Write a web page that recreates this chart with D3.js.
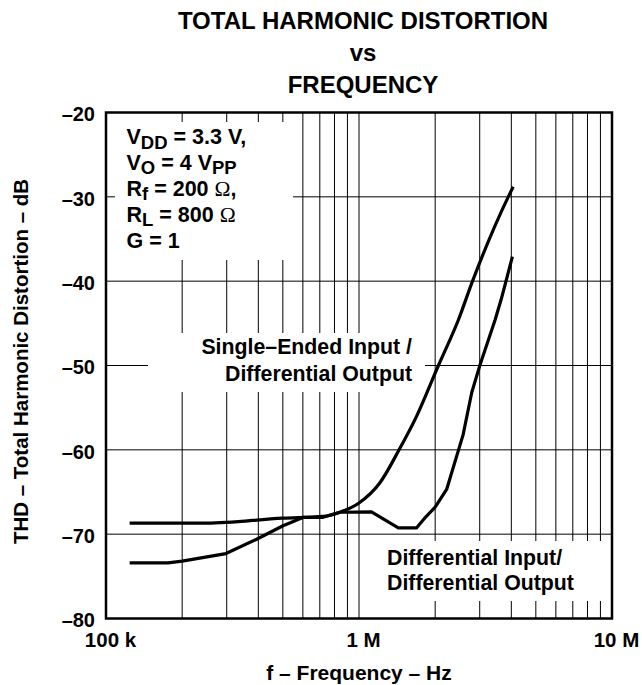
<!DOCTYPE html>
<html>
<head>
<meta charset="utf-8">
<script src="https://cdn.jsdelivr.net/npm/d3@7"></script>
<style>
  html, body { margin: 0; padding: 0; background: #fff; }
  svg { display: block; }
  text { font-family: "Liberation Sans", Arial, Helvetica, sans-serif; font-weight: bold; fill: #000; }
</style>
</head>
<body>
<svg id="chart" width="642" height="685"></svg>
<script>
// ---- Data ----
const titleLines = ["TOTAL HARMONIC DISTORTION", "vs", "FREQUENCY"];
const xTickValues = [1e5, 1e6, 1e7];
const xTickLabels = ["100 k", "1 M", "10 M"];
const yTickValues = [-20, -30, -40, -50, -60, -70, -80];
const xLabel = "f – Frequency – Hz";
const yLabel = "THD – Total Harmonic Distortion – dB";

// Single-ended input / differential output
const seFreq = [124e3, 250e3, 500e3, 720e3, 840e3, 1.0e6, 1.21e6, 1.44e6, 1.69e6, 2.06e6, 2.47e6, 2.81e6, 3.89e6, 4.07e6];
const seTHD  = [-68.7, -68.7, -68.1, -67.9, -67.4, -66.3, -63.9, -60.0, -56.0, -50.0, -44.6, -40.0, -30.0, -28.8];

// Differential input / differential output
const diffFreq = [124e3, 176e3, 200e3, 298e3, 394e3, 501e3, 603e3, 721e3, 841e3, 1.12e6, 1.43e6, 1.69e6, 1.83e6, 2.0e6, 2.22e6, 2.58e6, 2.79e6, 3.01e6, 3.45e6, 3.66e6, 4.04e6];
const diffTHD  = [-73.4, -73.4, -73.2, -72.3, -70.6, -69.0, -68.0, -68.0, -67.4, -67.35, -69.25, -69.25, -68.0, -66.8, -64.7, -58.2, -53.2, -49.9, -44.6, -42.0, -37.1];

(function () {
// ---- Layout ----
const svg = d3.select("#chart");
const pL = 106, pR = 612, pT = 112.5, pB = 618.5;

const x = d3.scaleLog().domain([1e5, 1e7]).range([pL, pR]);
const y = d3.scaleLinear().domain([-80, -20]).range([pB, pT]);

const gridX = [];
for (const dec of [1e5, 1e6]) for (let k = 1; k <= 9; k++) gridX.push(k * dec);
gridX.push(1e7);

const grid = svg.append("g").attr("stroke", "#000").attr("stroke-width", 1);
grid.selectAll("line.v").data(gridX).join("line").attr("class", "v")
  .attr("x1", d => x(d)).attr("x2", d => x(d))
  .attr("y1", pT).attr("y2", pB);
grid.selectAll("line.h").data(yTickValues).join("line").attr("class", "h")
  .attr("x1", pL).attr("x2", pR)
  .attr("y1", d => y(d)).attr("y2", d => y(d));

// white label boxes that interrupt the grid
const boxes = [
  { x0: 115, x1: 293, y0: 122, y1: 260 },
  { x0: 148, x1: 425, y0: 333, y1: 392 },
  { x0: 380, x1: 611, y0: 541, y1: 601 }
];
svg.append("g").selectAll("rect").data(boxes).join("rect")
  .attr("x", d => d.x0).attr("y", d => d.y0)
  .attr("width", d => d.x1 - d.x0).attr("height", d => d.y1 - d.y0)
  .attr("fill", "#fff");

// curves
svg.append("path")
  .datum(seFreq.map((f, i) => [f, seTHD[i]]))
  .attr("d", d3.line().x(d => x(d[0])).y(d => y(d[1])).curve(d3.curveMonotoneX))
  .attr("fill", "none").attr("stroke", "#000").attr("stroke-width", 3.2)
  .attr("stroke-linejoin", "round");
svg.append("path")
  .datum(diffFreq.map((f, i) => [f, diffTHD[i]]))
  .attr("d", d3.line().x(d => x(d[0])).y(d => y(d[1])))
  .attr("fill", "none").attr("stroke", "#000").attr("stroke-width", 3.2)
  .attr("stroke-linejoin", "round");

// frame
svg.append("rect").attr("x", pL).attr("y", pT)
  .attr("width", pR - pL).attr("height", pB - pT)
  .attr("fill", "none").attr("stroke", "#000").attr("stroke-width", 2.5);

// axes (labels only; grid provides the ticks)
const xAxis = d3.axisBottom(x).tickValues(xTickValues).tickSize(0)
  .tickFormat((d, i) => xTickLabels[i]);
const gx = svg.append("g").attr("transform", `translate(4,${pB})`).call(xAxis);
gx.attr("font-family", null).attr("font-size", null);
gx.select(".domain").remove();
gx.selectAll("text").attr("font-size", 20.5).attr("dy", 0).attr("y", 28).attr("fill", "#000");

const yAxis = d3.axisLeft(y).tickValues(yTickValues).tickSize(0)
  .tickFormat(d => "–" + Math.abs(d));
const gy = svg.append("g").attr("transform", `translate(${pL - 11},2)`).call(yAxis);
gy.attr("font-family", null).attr("font-size", null);
gy.select(".domain").remove();
gy.selectAll("text").attr("font-size", 20).attr("x", 0).attr("fill", "#000");

// axis titles
svg.append("text").attr("x", (pL + pR) / 2).attr("y", 680)
  .attr("text-anchor", "middle").attr("font-size", 21).text(xLabel);
svg.append("text").attr("transform", `translate(28,${(pT + pB) / 2 - 4}) rotate(-90)`)
  .attr("text-anchor", "middle").attr("font-size", 20.5).text(yLabel);

// title
const titleY = [29, 61, 93];
svg.append("g").selectAll("text").data(titleLines).join("text")
  .attr("x", 363).attr("y", (d, i) => titleY[i])
  .attr("text-anchor", "middle").attr("font-size", 24).text(d => d);

// condition annotation
const omegaStyle = "font-family:'Liberation Serif','Times New Roman',serif;font-weight:normal";
const condLines = [
  [["V", 0], ["DD", 1], [" = 3.3 V,", 0]],
  [["V", 0], ["O", 1], [" = 4 V", 0], ["PP", 1]],
  [["R", 0], ["f", 1], [" = 200 ", 0], ["Ω", 2], [",", 0]],
  [["R", 0], ["L", 1], [" = 800 ", 0], ["Ω", 2]],
  [["G = 1", 0]]
];
const condBase = [144, 169.5, 195.5, 221.5, 247.5];
condLines.forEach((parts, i) => {
  const t = svg.append("text").attr("x", 126.5).attr("y", condBase[i]).attr("font-size", 21.5);
  let prevSub = false;
  parts.forEach(([s, kind]) => {
    const ts = t.append("tspan").text(s);
    if (kind === 1) { ts.attr("font-size", 18.5).attr("dy", prevSub ? 0 : 4.5); prevSub = true; }
    else {
      if (prevSub) ts.attr("dy", -4.5);
      prevSub = false;
      if (kind === 2) ts.attr("style", omegaStyle);
    }
  });
});

// curve labels
svg.append("text").attr("x", 412).attr("y", 354).attr("text-anchor", "end")
  .attr("font-size", 21.3).text("Single–Ended Input /");
svg.append("text").attr("x", 412).attr("y", 380.5).attr("text-anchor", "end")
  .attr("font-size", 21.3).text("Differential Output");
svg.append("text").attr("x", 387).attr("y", 565).attr("font-size", 21.3).text("Differential Input/");
svg.append("text").attr("x", 387).attr("y", 590).attr("font-size", 21.3).text("Differential Output");
})();
</script>
</body>
</html>
